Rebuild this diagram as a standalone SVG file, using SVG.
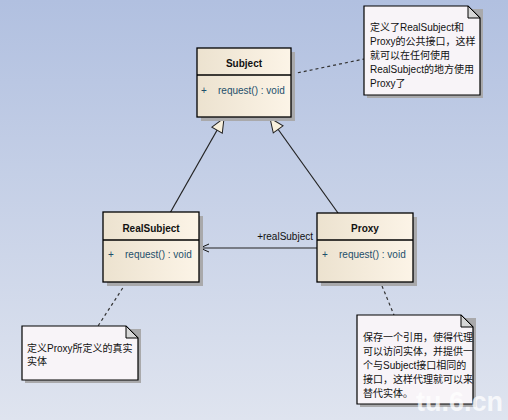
<svg xmlns="http://www.w3.org/2000/svg" width="508" height="420" viewBox="0 0 508 420">
<defs>
<linearGradient id="bg" x1="0" y1="0" x2="0" y2="1">
<stop offset="0" stop-color="#b1c0e0"/>
<stop offset="1" stop-color="#dfe4ef"/>
</linearGradient>
<linearGradient id="cls" x1="0" y1="0" x2="1" y2="0">
<stop offset="0" stop-color="#ece2cf"/>
<stop offset="1" stop-color="#fcf4e7"/>
</linearGradient>
<marker id="gen" markerWidth="16" markerHeight="14" refX="15" refY="7" orient="auto" markerUnits="userSpaceOnUse">
<path d="M1,1 L15,7 L1,13 Z" fill="#f7efdc" stroke="#222" stroke-width="1"/>
</marker>
<marker id="open" markerWidth="12" markerHeight="10" refX="10" refY="5" orient="auto" markerUnits="userSpaceOnUse">
<path d="M1,1 L10,5 L1,9" fill="none" stroke="#111" stroke-width="1"/>
</marker>
<style>
.box{fill:url(#cls);stroke:#000;stroke-width:1.3}
.shadow{fill:#a9a9ab}
.name{font-family:"Liberation Sans",Arial,sans-serif;font-size:10px;font-weight:bold;fill:#111;text-anchor:middle}
.op{font-family:"Liberation Sans",Arial,sans-serif;font-size:10px;fill:#1d4f6b}
.note{fill:#f8f4f8;stroke:#000;stroke-width:1.2}
.fold{fill:#d6d6d6;stroke:#000;stroke-width:1}
.nt{font-family:"Liberation Sans","Noto Sans CJK SC",sans-serif;font-size:10px;fill:#111}
.lbl{font-family:"Liberation Sans",Arial,sans-serif;font-size:10px;fill:#111}
.dash{stroke:#333;stroke-width:1.2;stroke-dasharray:3,3;fill:none}
.line{stroke:#222;stroke-width:1.2;fill:none}
</style>
</defs>
<rect width="508" height="420" fill="url(#bg)"/>

<g id="connectors">
<line class="line" x1="170" y1="213" x2="224" y2="118" marker-end="url(#gen)"/>
<line class="line" x1="338" y1="213" x2="270" y2="118" marker-end="url(#gen)"/>
<line class="line" x1="317" y1="248" x2="200" y2="248" marker-end="url(#open)"/>
<text class="lbl" x="313" y="240" text-anchor="end">+realSubject</text>
<line class="dash" x1="292" y1="74" x2="364" y2="59"/>
<line class="dash" x1="126" y1="283" x2="98" y2="326"/>
<line class="dash" x1="382" y1="286" x2="394" y2="315"/>
</g>

<g id="Subject">
<rect class="shadow" x="201" y="52" width="94" height="69"/>
<rect class="box" x="197" y="48" width="94" height="69"/>
<line x1="197" y1="75" x2="291" y2="75" stroke="#000" stroke-width="1.3"/>
<text class="name" x="244" y="67">Subject</text>
<text class="op" x="201" y="94">+</text>
<text class="op" x="218" y="94">request() : void</text>
</g>

<g id="RealSubject">
<rect class="shadow" x="107" y="216" width="96" height="70"/>
<rect class="box" x="103" y="212" width="96" height="70"/>
<line x1="103" y1="240" x2="199" y2="240" stroke="#000" stroke-width="1.3"/>
<text class="name" x="151" y="232">RealSubject</text>
<text class="op" x="108" y="258">+</text>
<text class="op" x="125" y="258">request() : void</text>
</g>

<g id="Proxy">
<rect class="shadow" x="321" y="217" width="96" height="69"/>
<rect class="box" x="317" y="213" width="96" height="69"/>
<line x1="317" y1="240" x2="413" y2="240" stroke="#000" stroke-width="1.3"/>
<text class="name" x="365" y="232">Proxy</text>
<text class="op" x="322" y="258">+</text>
<text class="op" x="339" y="258">request() : void</text>
</g>

<g id="note1">
<rect class="shadow" x="367" y="9" width="116" height="89"/>
<path class="note" d="M364,6 H468 L480,18 V95 H364 Z"/>
<path class="fold" d="M468,6 L480,18 H468 Z"/>
<text class="nt" x="370" y="31">定义了RealSubject和</text>
<text class="nt" x="370" y="45">Proxy的公共接口，这样</text>
<text class="nt" x="370" y="59">就可以在任何使用</text>
<text class="nt" x="370" y="73">RealSubject的地方使用</text>
<text class="nt" x="370" y="87">Proxy了</text>
</g>

<g id="note2">
<rect class="shadow" x="25" y="329" width="116" height="54"/>
<path class="note" d="M22,326 H126 L138,338 V380 H22 Z"/>
<path class="fold" d="M126,326 L138,338 H126 Z"/>
<text class="nt" x="27" y="352">定义Proxy所定义的真实</text>
<text class="nt" x="27" y="365">实体</text>
</g>

<g id="note3">
<rect class="shadow" x="360" y="318" width="116" height="89"/>
<path class="note" d="M357,315 H461 L473,327 V404 H357 Z"/>
<path class="fold" d="M461,315 L473,327 H461 Z"/>
<text class="nt" x="363" y="341">保存一个引用，使得代理</text>
<text class="nt" x="363" y="355">可以访问实体，并提供一</text>
<text class="nt" x="363" y="369">个与Subject接口相同的</text>
<text class="nt" x="363" y="383">接口，这样代理就可以来</text>
<text class="nt" x="363" y="397">替代实体。</text>
</g>

<text x="416" y="411" font-family="Liberation Sans,Arial,sans-serif" font-size="27" font-weight="bold" fill="#ffffff" fill-opacity="0.75">tu.6.cn</text>
</svg>
